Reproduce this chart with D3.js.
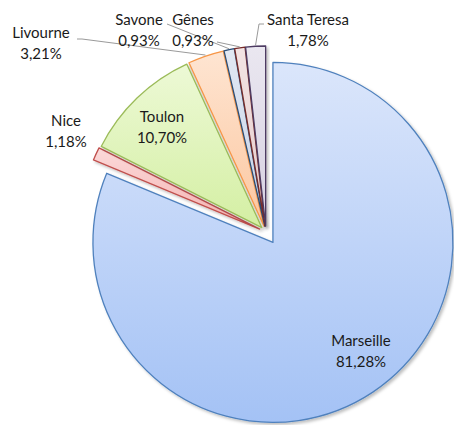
<!DOCTYPE html>
<html>
<head>
<meta charset="utf-8">
<script src="https://cdn.jsdelivr.net/npm/d3@7"></script>
<style>
  html, body { margin: 0; padding: 0; background: #ffffff; }
  #chart { width: 454px; height: 425px; }
  text { font-family: Lato, "Open Sans", sans-serif; font-size: 15px; fill: #1a1a1a; }
</style>
</head>
<body>
<div id="chart"></div>
<script>
// data (percent of traffic)
const ports = ['Marseille', 'Nice', 'Toulon', 'Livourne', 'Savone', 'Gênes', 'Santa Teresa'];
const shares = [81.28, 1.18, 10.70, 3.21, 0.93, 0.93, 1.78];
const shareLabels = ['81,28%', '1,18%', '10,70%', '3,21%', '0,93%', '0,93%', '1,78%'];

// Office 2007 style colours
const strokeColors = ['#4f81bd', '#c0504d', '#9bbb59', '#f79646', '#2c4d75', '#772c2a', '#4d3b62'];
const fillTop = ['#dbe6fb', '#fbdada', '#edf9d6', '#fee5d2', '#e1e8f3', '#f3e4e4', '#eae7f0'];
const fillBottom = ['#a4c2f5', '#f5b0af', '#d4efa3', '#fcc7a0', '#c7d4e9', '#e4caca', '#d6d0e1'];
const explode = [12.5, 7, 6, 6, 6, 6, 6];

// label layout, relative to the pie centre
const labelPos = [[95, 114], [-200, -106], [-104, -110], [-225, -194], [-127, -207], [-73, -207], [42, -207]];
const leaders = [null, null, null, [[-189, -193], [-184, -193]], [[-99, -208]], [[-49, -190]], [[-2, -208], [-7, -208]]];

const width = 454, height = 425;
const cx = 266, cy = 232, radius = 180;

const svg = d3.select('#chart')
    .append('svg')
    .attr('width', width)
    .attr('height', height);

const defs = svg.append('defs');

const shadow = defs.append('filter')
    .attr('id', 'shadow')
    .attr('x', '-20%').attr('y', '-20%')
    .attr('width', '140%').attr('height', '140%');
shadow.append('feDropShadow')
    .attr('dx', 2).attr('dy', 2)
    .attr('stdDeviation', 1.6)
    .attr('flood-color', '#000')
    .attr('flood-opacity', 0.25);

ports.forEach((p, i) => {
    const g = defs.append('linearGradient')
        .attr('id', 'grad' + i)
        .attr('x1', 0).attr('y1', 0)
        .attr('x2', 0).attr('y2', 1);
    g.append('stop').attr('offset', '0%').attr('stop-color', fillTop[i]);
    g.append('stop').attr('offset', '100%').attr('stop-color', fillBottom[i]);
});

const pie = d3.pie()
    .sort(null)
    .value(d => d)
    .startAngle(0)
    .endAngle(2 * Math.PI);

const arcs = pie(shares);

const arc = d3.arc()
    .innerRadius(0)
    .outerRadius(radius);

const mid = d => (d.startAngle + d.endAngle) / 2;
const offset = (d, e) => [Math.sin(mid(d)) * e, -Math.cos(mid(d)) * e];

const root = svg.append('g')
    .attr('transform', `translate(${cx},${cy})`);

// slices
root.selectAll('path.slice')
    .data(arcs)
    .enter()
    .append('path')
    .attr('class', 'slice')
    .attr('d', arc)
    .attr('transform', (d, i) => {
        const o = offset(d, explode[i]);
        return `translate(${o[0]},${o[1]})`;
    })
    .attr('fill', (d, i) => `url(#grad${i})`)
    .attr('stroke', (d, i) => strokeColors[i])
    .attr('stroke-width', 1.3)
    .attr('stroke-linejoin', 'round')
    .attr('filter', 'url(#shadow)');

// leader lines
arcs.forEach((d, i) => {
    if (!leaders[i]) return;
    const o = offset(d, explode[i] + radius + 1);
    const pts = leaders[i].concat([o]);
    root.append('path')
        .attr('d', d3.line()(pts))
        .attr('fill', 'none')
        .attr('stroke', '#9a9a9a')
        .attr('stroke-width', 1);
});

// labels
const labels = root.selectAll('text.label')
    .data(arcs)
    .enter()
    .append('text')
    .attr('class', 'label')
    .attr('text-anchor', 'middle')
    .attr('x', (d, i) => labelPos[i][0])
    .attr('y', (d, i) => labelPos[i][1]);

labels.append('tspan')
    .attr('x', (d, i) => labelPos[i][0])
    .text((d, i) => ports[i]);

labels.append('tspan')
    .attr('x', (d, i) => labelPos[i][0])
    .attr('dy', 21)
    .text((d, i) => shareLabels[i]);
</script>
</body>
</html>
